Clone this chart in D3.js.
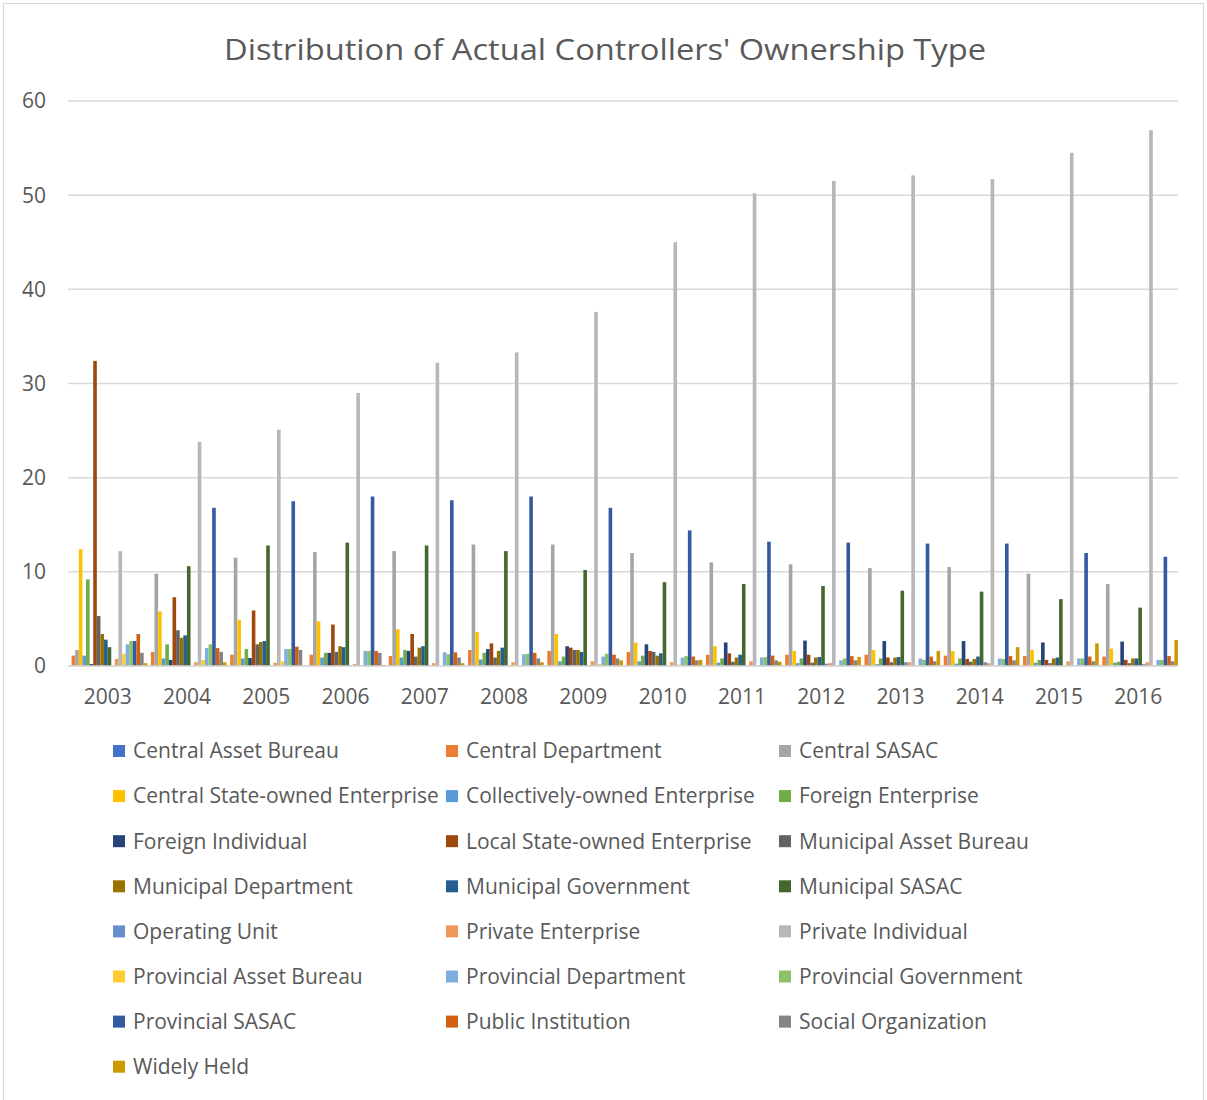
<!DOCTYPE html>
<html>
<head>
<meta charset="utf-8">
<script src="https://cdn.jsdelivr.net/npm/d3@7"></script>
<style>
  body { margin: 0; background: #fff; }
  text { font-family: "Open Sans", "Noto Sans", sans-serif; fill: #595959; }
</style>
</head>
<body>
<div id="chart"></div>
<script>
const years = ['2003', '2004', '2005', '2006', '2007', '2008', '2009', '2010', '2011', '2012', '2013', '2014', '2015', '2016'];
const yTicks = [0, 10, 20, 30, 40, 50, 60];

// one array per series, 2003 -> 2016
const centralAssetBureau = [0, 0, 0, 0, 0, 0, 0, 0, 0, 0, 0, 0, 0, 0];
const centralDepartment = [1.1, 1.5, 1.2, 1.2, 1.05, 1.7, 1.6, 1.5, 1.2, 1.2, 1.2, 1.1, 1.05, 1.0];
const centralSasac = [1.7, 9.8, 11.5, 12.1, 12.2, 12.9, 12.9, 12.0, 11.0, 10.8, 10.4, 10.5, 9.8, 8.7];
const centralSoe = [12.4, 5.8, 4.9, 4.75, 3.9, 3.6, 3.4, 2.5, 2.1, 1.6, 1.7, 1.6, 1.7, 1.85];
const collectivelyOwned = [1.1, 0.8, 0.8, 0.9, 0.9, 0.7, 0.5, 0.5, 0.35, 0.3, 0.2, 0.25, 0.35, 0.35];
const foreignEnterprise = [9.2, 2.3, 1.8, 1.4, 1.7, 1.4, 1.0, 1.1, 0.8, 0.8, 0.8, 0.8, 0.65, 0.45];
const foreignIndividual = [0.2, 0.65, 0.85, 1.4, 1.6, 1.8, 2.1, 2.3, 2.5, 2.7, 2.65, 2.65, 2.5, 2.6];
const localSoe = [32.4, 7.3, 5.9, 4.4, 3.4, 2.4, 1.95, 1.6, 1.35, 1.2, 0.9, 0.75, 0.65, 0.65];
const municipalAssetBureau = [5.3, 3.8, 2.3, 1.5, 1.0, 0.9, 1.7, 1.5, 0.45, 0.35, 0.4, 0.45, 0.3, 0.3];
const municipalDepartment = [3.4, 3.0, 2.55, 2.1, 1.95, 1.6, 1.7, 1.1, 0.9, 0.9, 0.9, 0.75, 0.8, 0.8];
const municipalGovernment = [2.8, 3.25, 2.65, 2.0, 2.1, 1.95, 1.5, 1.35, 1.2, 0.95, 0.95, 1.0, 0.9, 0.8];
const municipalSasac = [2.0, 10.6, 12.8, 13.1, 12.8, 12.2, 10.2, 8.9, 8.7, 8.5, 8.0, 7.9, 7.1, 6.2];
const operatingUnit = [0, 0, 0, 0, 0, 0, 0, 0, 0, 0.25, 0.4, 0.4, 0, 0.2];
const privateEnterprise = [0.75, 0.4, 0.35, 0.2, 0.3, 0.4, 0.5, 0.4, 0.5, 0.3, 0.4, 0.3, 0.5, 0.4];
const privateIndividual = [12.2, 23.8, 25.1, 29.0, 32.2, 33.3, 37.6, 45.0, 50.2, 51.5, 52.1, 51.7, 54.5, 56.9];
const provincialAssetBureau = [1.3, 0.65, 0.5, 0, 0, 0.1, 0.2, 0.15, 0.1, 0, 0.1, 0, 0, 0];
const provincialDepartment = [2.3, 1.9, 1.8, 1.6, 1.45, 1.25, 1.0, 0.9, 0.9, 0.6, 0.8, 0.8, 0.8, 0.65];
const provincialGovernment = [2.65, 2.3, 1.8, 1.6, 1.25, 1.3, 1.3, 1.05, 0.95, 0.8, 0.65, 0.75, 0.8, 0.65];
const provincialSasac = [2.65, 16.8, 17.5, 18.0, 17.6, 18.0, 16.8, 14.4, 13.2, 13.1, 13.0, 13.0, 12.0, 11.6];
const publicInstitution = [3.4, 1.9, 2.05, 1.6, 1.45, 1.4, 1.2, 1.0, 1.1, 1.05, 1.0, 1.05, 1.0, 1.05];
const socialOrganization = [1.4, 1.5, 1.7, 1.4, 0.9, 0.8, 0.8, 0.6, 0.6, 0.6, 0.5, 0.6, 0.5, 0.5];
const widelyHeld = [0.3, 0.4, 0, 0.1, 0.3, 0.4, 0.6, 0.65, 0.45, 0.95, 1.6, 2.0, 2.4, 2.75];

const seriesNames = ['Central Asset Bureau', 'Central Department', 'Central SASAC', 'Central State-owned Enterprise',
  'Collectively-owned Enterprise', 'Foreign Enterprise', 'Foreign Individual', 'Local State-owned Enterprise',
  'Municipal Asset Bureau', 'Municipal Department', 'Municipal Government', 'Municipal SASAC',
  'Operating Unit', 'Private Enterprise', 'Private Individual', 'Provincial Asset Bureau',
  'Provincial Department', 'Provincial Government', 'Provincial SASAC', 'Public Institution',
  'Social Organization', 'Widely Held'];
const seriesValues = [centralAssetBureau, centralDepartment, centralSasac, centralSoe,
  collectivelyOwned, foreignEnterprise, foreignIndividual, localSoe,
  municipalAssetBureau, municipalDepartment, municipalGovernment, municipalSasac,
  operatingUnit, privateEnterprise, privateIndividual, provincialAssetBureau,
  provincialDepartment, provincialGovernment, provincialSasac, publicInstitution,
  socialOrganization, widelyHeld];
const colors = ['#4472C4', '#ED7D31', '#A5A5A5', '#FFC000', '#5B9BD5', '#70AD47', '#264478', '#9E480E',
  '#636363', '#997300', '#255E91', '#43682B', '#698ED0', '#F1975A', '#B7B7B7', '#FFCD33',
  '#7CAFDD', '#8CC168', '#335AA1', '#D26012', '#848484', '#CC9A00'];

const W = 1207, H = 1100;
const plot = {left: 68, right: 1178, top: 101, bottom: 666};

const svg = d3.select("#chart")
  .append("svg")
    .attr("width", W)
    .attr("height", H);

// chart border
svg.append("rect")
  .attr("x", 3.5).attr("y", 3.5)
  .attr("width", W - 7).attr("height", H)
  .attr("fill", "none")
  .attr("stroke", "#d9d9d9");

// title
svg.append("text")
  .attr("x", 605)
  .attr("y", 60)
  .attr("text-anchor", "middle")
  .attr("textLength", 762)
  .attr("lengthAdjust", "spacingAndGlyphs")
  .style("font-size", "30px")
  .text("Distribution of Actual Controllers' Ownership Type");

// scales
const x = d3.scaleBand()
  .domain(years)
  .range([plot.left, plot.right])
  .paddingInner(0)
  .paddingOuter(0);

const xs = d3.scaleBand()
  .domain(d3.range(seriesNames.length))
  .range([0, x.bandwidth()])
  .padding(0);

const y = d3.scaleLinear()
  .domain([0, 60])
  .range([plot.bottom, plot.top]);

// gridlines
svg.append("g")
  .selectAll("line")
  .data(yTicks)
  .join("line")
    .attr("x1", plot.left)
    .attr("x2", plot.right)
    .attr("y1", d => y(d))
    .attr("y2", d => y(d))
    .attr("stroke", "#d9d9d9")
    .attr("stroke-width", 1.5);

// y labels
svg.append("g")
  .selectAll("text")
  .data(yTicks)
  .join("text")
    .attr("x", 46)
    .attr("y", d => y(d))
    .attr("dy", "0.35em")
    .attr("text-anchor", "end")
    .style("font-size", "21px")
    .text(d => d);

// bars
const table = [];
seriesValues.forEach((vals, s) => {
  vals.forEach((v, i) => table.push({series: s, year: years[i], value: v}));
});

svg.append("g")
  .selectAll("rect")
  .data(table.filter(d => d.value > 0))
  .join("rect")
    .attr("x", d => x(d.year) + xs(d.series))
    .attr("y", d => y(d.value))
    .attr("width", xs.bandwidth())
    .attr("height", d => y(0) - y(d.value))
    .attr("fill", d => colors[d.series]);

// x axis line + labels
svg.append("line")
  .attr("x1", plot.left).attr("x2", plot.right)
  .attr("y1", y(0)).attr("y2", y(0))
  .attr("stroke", "#d9d9d9")
  .attr("stroke-width", 1.5);

svg.append("g")
  .selectAll("text")
  .data(years)
  .join("text")
    .attr("x", d => x(d) + x.bandwidth() / 2)
    .attr("y", 697)
    .attr("dy", "0.35em")
    .attr("text-anchor", "middle")
    .style("font-size", "21px")
    .text(d => d);

// legend, 3 columns
const legX = [113, 446, 779];
const legY0 = 751, legStep = 45.1;
const legend = svg.append("g")
  .selectAll("g")
  .data(seriesNames)
  .join("g")
    .attr("transform", (d, i) => `translate(${legX[i % 3]},${legY0 + Math.floor(i / 3) * legStep})`);

legend.append("rect")
  .attr("x", 0)
  .attr("y", -6)
  .attr("width", 12)
  .attr("height", 12)
  .attr("fill", (d, i) => colors[i]);

legend.append("text")
  .attr("x", 20)
  .attr("y", 0)
  .attr("dy", "0.35em")
  .style("font-size", "21px")
  .text(d => d);
</script>
</body>
</html>
